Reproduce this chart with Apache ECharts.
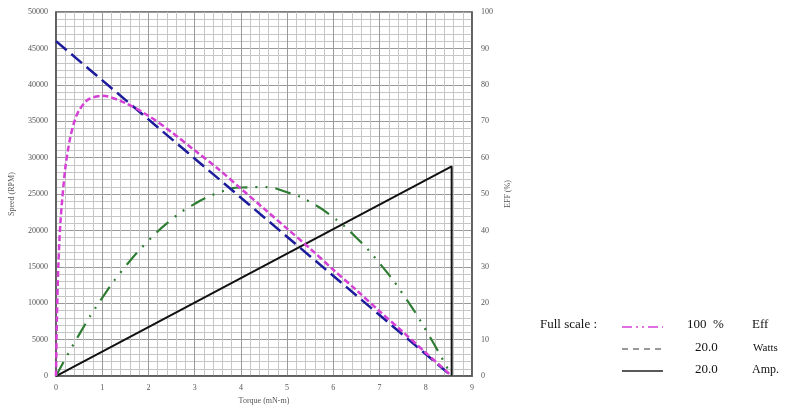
<!DOCTYPE html>
<html>
<head>
<meta charset="utf-8">
<script src="https://cdn.jsdelivr.net/npm/echarts@6/dist/echarts.min.js"></script>
<style>
html,body{margin:0;padding:0;background:#fff;}
#c{width:800px;height:410px;}
</style>
</head>
<body>
<div id="c"></div>
<script>
// Speed (RPM, left axis)
const speedTorque = [0, 8.56];
const speedValues = [46000, 0];
// Efficiency (% of 100 %, right axis)
const effTorque = [0, 0.02, 0.05, 0.1, 0.2, 0.3, 0.4, 0.5, 0.7, 1.0, 1.5, 2, 2.5, 3, 3.5, 4, 4.5, 5, 5.5, 6, 6.5, 7, 7.5, 8, 8.3, 8.56];
const effValues = [0, 16, 30, 43, 57, 65, 70, 73, 76, 77, 75, 71.5, 67, 62, 57, 51.5, 46, 40.5, 35, 29.2, 23.6, 17.8, 12.2, 6.4, 3, 0];
// Output power (% of 20.0 W, right axis)
const powerTorque = [0, 0.5, 1, 1.5, 2, 2.5, 3, 3.5, 4, 4.5, 5, 5.5, 6, 6.5, 7, 7.5, 8, 8.56];
const powerValues = [0, 11.4, 21.5, 30.1, 37.2, 43, 47.3, 50.3, 51.8, 51.9, 50.5, 47.8, 43.6, 38, 31, 22.6, 12.7, 0];
// Current (% of 20.0 A, right axis)
const currentTorque = [0, 8.56, 8.56];
const currentValues = [0, 57.6, 0];

const xTicks = {min: 0, max: 9, interval: 1};
const leftTicks = {min: 0, max: 50000, interval: 5000};
const rightTicks = {min: 0, max: 100, interval: 10};

const legendRows = [
  {label: '100  %', unit: 'Eff'},
  {label: '20.0', unit: 'Watts'},
  {label: '20.0', unit: 'Amp.'}
];

const zip = (a, b) => a.map((v, i) => [v, b[i]]);

const serif = 'Liberation Serif';
const axisLabel = {fontFamily: serif, fontSize: 8, color: '#555', formatter: v => String(v)};
const majorLine = {show: true, lineStyle: {color: '#9a9a9a', width: 1}};
const minorLine = {show: true, lineStyle: {color: '#c6c6c6', width: 1}};

const chart = echarts.init(document.getElementById('c'));
chart.setOption({
  animation: false,
  grid: {left: 55, right: 328, top: 12, bottom: 33, show: true, borderColor: '#555', borderWidth: 1.5},
  xAxis: {
    type: 'value', min: xTicks.min, max: xTicks.max, interval: xTicks.interval,
    name: 'Torque (mN-m)', nameLocation: 'middle', nameGap: 19,
    nameTextStyle: {fontFamily: serif, fontSize: 8, color: '#555'},
    axisLine: {show: true, lineStyle: {color: '#555', width: 1.5}},
    axisTick: {show: false},
    axisLabel: Object.assign({margin: 8}, axisLabel),
    splitLine: majorLine,
    minorTick: {show: false, splitNumber: 5},
    minorSplitLine: minorLine
  },
  yAxis: [
    {
      type: 'value', min: leftTicks.min, max: leftTicks.max, interval: leftTicks.interval,
      name: 'Speed (RPM)', nameLocation: 'middle', nameGap: 40, nameRotate: 90,
      nameTextStyle: {fontFamily: serif, fontSize: 8, color: '#555'},
      axisLine: {show: true, lineStyle: {color: '#555', width: 1.5}},
      axisTick: {show: false},
      axisLabel: Object.assign({margin: 8}, axisLabel),
      splitLine: majorLine,
      minorTick: {show: false, splitNumber: 5},
      minorSplitLine: minorLine
    },
    {
      type: 'value', min: rightTicks.min, max: rightTicks.max, interval: rightTicks.interval,
      position: 'right',
      name: 'EFF (%)', nameLocation: 'middle', nameGap: 26, nameRotate: 90,
      nameTextStyle: {fontFamily: serif, fontSize: 8, color: '#555'},
      axisLine: {show: true, lineStyle: {color: '#555', width: 1.5}},
      axisTick: {show: false},
      axisLabel: Object.assign({margin: 9}, axisLabel),
      splitLine: {show: false}
    }
  ],
  series: [
    {
      name: 'Current', type: 'line', yAxisIndex: 1, data: zip(currentTorque, currentValues),
      showSymbol: false, lineStyle: {color: '#111', width: 2}, z: 3
    },
    {
      name: 'Power', type: 'line', yAxisIndex: 1, smooth: true, data: zip(powerTorque, powerValues),
      showSymbol: false, lineStyle: {color: '#2e7d32', width: 2.2, type: [16, 8, 2, 8, 2, 8]}, z: 4
    },
    {
      name: 'Speed', type: 'line', yAxisIndex: 0, data: zip(speedTorque, speedValues),
      showSymbol: false, lineStyle: {color: '#1c1c9c', width: 2.5, type: [14, 6]}, z: 5
    },
    {
      name: 'Eff', type: 'line', yAxisIndex: 1, smooth: 0.3, data: zip(effTorque, effValues),
      showSymbol: false, lineStyle: {color: '#d63fd6', width: 2.5, type: [6, 3]}, z: 6
    }
  ],
  graphic: [
    {type: 'text', left: 540, top: 318, style: {text: 'Full scale :', font: '13px "Liberation Serif"', fill: '#111'}},
    {type: 'line', shape: {x1: 622, y1: 327, x2: 663, y2: 327}, style: {stroke: '#e070e0', lineWidth: 2, lineDash: [10, 4, 2, 4, 2, 4]}},
    {type: 'line', shape: {x1: 622, y1: 349, x2: 663, y2: 349}, style: {stroke: '#777', lineWidth: 1.5, lineDash: [6, 5]}},
    {type: 'line', shape: {x1: 622, y1: 371, x2: 663, y2: 371}, style: {stroke: '#222', lineWidth: 1.5}},
    {type: 'text', left: 687, top: 318, style: {text: legendRows[0].label, font: '13px "Liberation Serif"', fill: '#111'}},
    {type: 'text', left: 752, top: 318, style: {text: legendRows[0].unit, font: '13px "Liberation Serif"', fill: '#111'}},
    {type: 'text', left: 695, top: 341, style: {text: legendRows[1].label, font: '13px "Liberation Serif"', fill: '#111'}},
    {type: 'text', left: 753, top: 343, style: {text: legendRows[1].unit, font: '11px "Liberation Serif"', fill: '#111'}},
    {type: 'text', left: 695, top: 363, style: {text: legendRows[2].label, font: '13px "Liberation Serif"', fill: '#111'}},
    {type: 'text', left: 752, top: 364, style: {text: legendRows[2].unit, font: '12px "Liberation Serif"', fill: '#111'}}
  ]
});
</script>
</body>
</html>
